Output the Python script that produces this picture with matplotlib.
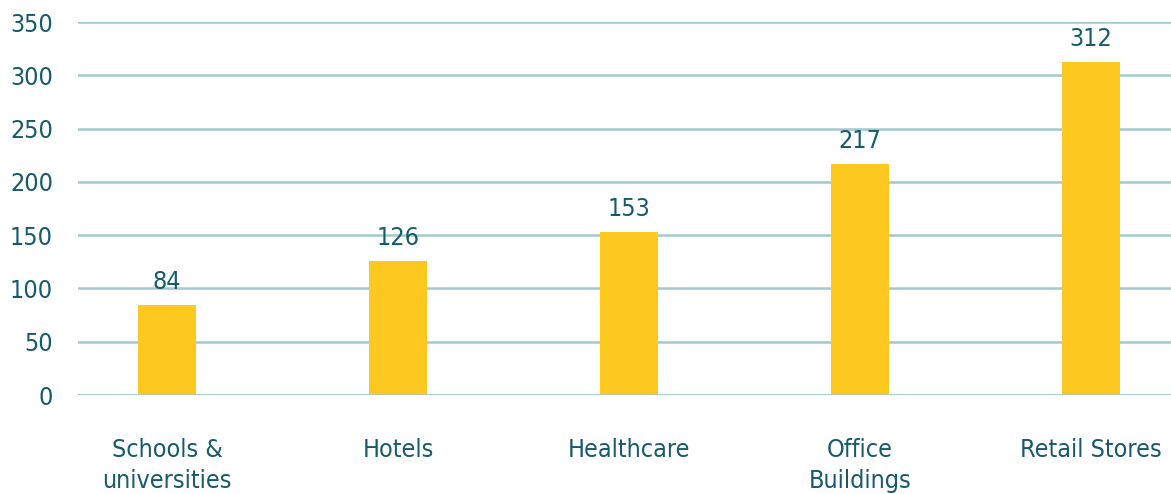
import matplotlib
matplotlib.use("Agg")
import matplotlib.pyplot as plt

categories = ["Schools &\nuniversities", "Hotels", "Healthcare", "Office\nBuildings", "Retail Stores"]
values = [84, 126, 153, 217, 312]
yticks = [0, 50, 100, 150, 200, 250, 300, 350]

TEXT = "#165a6b"
GRID = "#a2c9cd"
BAR = "#fdc81f"
FS = 18

plt.rcParams['font.family'] = ['DejaVu Sans']
fig = plt.figure(figsize=(11.71, 4.94), dpi=100)
ax = fig.add_axes([78/1171, 1 - 395/494, 1 - 78/1171, (395 - 22)/494])
x = list(range(len(values)))
ax.bar(x, values, width=0.25, color=BAR, zorder=2)
ax.set_ylim(0, 350)
ax.set_xlim(-0.385, 4.346)
ax.set_yticks(yticks)
ax.yaxis.grid(True, color=GRID, linewidth=1.8, zorder=0)
ax.axhline(0, color=GRID, linewidth=1.8, zorder=3)
ax.set_axisbelow(True)
for s in ax.spines.values():
    s.set_visible(False)
ax.tick_params(axis='both', length=0, colors=TEXT, labelsize=FS)
ax.tick_params(axis='y', pad=18)
ax.tick_params(axis='x', pad=31)
ax.set_xticks(x)
ax.set_xticklabels(categories, linespacing=1.38, fontstretch='condensed')
for lab in ax.get_yticklabels():
    lab.set_fontstretch('condensed')
for xi, v in zip(x, values):
    ax.annotate(str(v), (xi, v), xytext=(0, 8), textcoords='offset points', ha='center', va='bottom',
                color=TEXT, fontsize=FS, fontstretch='condensed')
fig.savefig("out.png", dpi=100)
